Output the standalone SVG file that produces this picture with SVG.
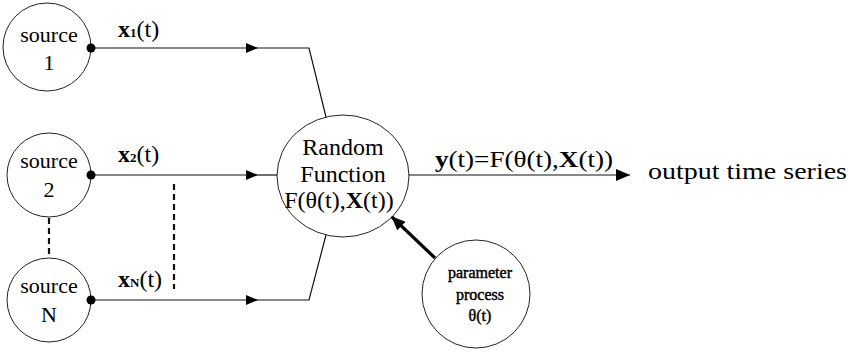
<svg xmlns="http://www.w3.org/2000/svg" width="856" height="353" viewBox="0 0 856 353">
<defs>
<style>
.node{fill:#fff;stroke:#222;stroke-width:1}
.t{font-family:"Liberation Serif","Times New Roman",serif;fill:#000;text-anchor:middle}
.n{font-size:24px}
.s{font-size:22px}
.lab{font-family:"Liberation Serif","Times New Roman",serif;fill:#000;font-size:24px}
.wire{fill:none;stroke:#111;stroke-width:1.2}
.dash{fill:none;stroke:#111;stroke-width:2.2;stroke-dasharray:6 4}
</style>
<marker id="ah" viewBox="0 0 12 10" refX="12" refY="5" markerWidth="12" markerHeight="10" markerUnits="userSpaceOnUse" orient="auto">
<path d="M0,0 L12,5 L0,10 Z" fill="#000"/>
</marker>
<marker id="ahb" viewBox="0 0 14 12" refX="14" refY="6" markerWidth="14" markerHeight="12" markerUnits="userSpaceOnUse" orient="auto">
<path d="M0,0 L14,6 L0,12 Z" fill="#000"/>
</marker>
<marker id="aht" viewBox="0 0 14 12" refX="13" refY="6" markerWidth="14" markerHeight="12" markerUnits="userSpaceOnUse" orient="auto">
<path d="M0,0 L14,6 L0,12 Z" fill="#000"/>
</marker>
</defs>
<rect width="856" height="353" fill="#fff"/>
<g id="source1">
<circle class="node" cx="47" cy="47" r="44"/>
<text class="t s" x="49" y="42">source</text>
<text class="t s" x="49" y="70">1</text>
</g>
<g id="source2">
<circle class="node" cx="49" cy="175" r="42"/>
<text class="t s" x="49" y="168">source</text>
<text class="t s" x="49" y="197">2</text>
</g>
<g id="sourceN">
<circle class="node" cx="49" cy="300" r="42"/>
<text class="t s" x="49" y="293">source</text>
<text class="t s" x="49" y="322">N</text>
</g>
<g id="random-function">
<ellipse class="node" cx="343" cy="176" rx="66" ry="61"/>
<text class="t n" x="343" y="155">Random</text>
<text class="t n" x="343" y="182">Function</text>
<text class="t n" x="339" y="208">F(θ(t),<tspan font-weight="bold">X</tspan>(t))</text>
</g>
<g id="parameter-process">
<circle class="node" cx="476" cy="294" r="54"/>
<g class="t" font-size="16" stroke="#000" stroke-width="0.45">
<text x="480" y="278">parameter</text>
<text x="480" y="300">process</text>
<text x="480" y="321">θ(t)</text>
</g>
</g>
<g id="connectors">
<line class="wire" x1="91" y1="48" x2="258" y2="48" marker-end="url(#ah)"/>
<polyline class="wire" points="258,48 309,48 326,117"/>
<line class="wire" x1="91" y1="175" x2="258" y2="175" marker-end="url(#ah)"/>
<line class="wire" x1="258" y1="175" x2="277" y2="175"/>
<line class="wire" x1="91" y1="300" x2="258" y2="300" marker-end="url(#ah)"/>
<polyline class="wire" points="258,300 309,300 326,235"/>
<line class="wire" x1="409" y1="175" x2="630" y2="175" marker-end="url(#ahb)"/>
<line x1="435" y1="258" x2="392" y2="217" stroke="#000" stroke-width="3.2" marker-end="url(#aht)"/>
<line class="dash" x1="49" y1="218" x2="49" y2="258"/>
<line class="dash" x1="174" y1="184" x2="174" y2="289"/>
<circle cx="91" cy="48" r="4.5" fill="#000"/>
<circle cx="91" cy="175" r="4.5" fill="#000"/>
<circle cx="91" cy="300" r="4.5" fill="#000"/>
</g>
<g id="labels">
<text class="lab" x="118" y="37"><tspan font-weight="bold">x</tspan><tspan font-size="13" font-weight="bold">1</tspan>(t)</text>
<text class="lab" x="118" y="162"><tspan font-weight="bold">x</tspan><tspan font-size="13" font-weight="bold">2</tspan>(t)</text>
<text class="lab" x="118" y="287"><tspan font-weight="bold">x</tspan><tspan font-size="13" font-weight="bold">N</tspan>(t)</text>
<text class="lab" x="435" y="167" font-size="31" textLength="178" lengthAdjust="spacingAndGlyphs"><tspan font-weight="bold">y</tspan>(t)=F(θ(t),<tspan font-weight="bold">X</tspan>(t))</text>
<text class="lab" x="648" y="179" font-size="32" textLength="199" lengthAdjust="spacingAndGlyphs">output time series</text>
</g>
</svg>
